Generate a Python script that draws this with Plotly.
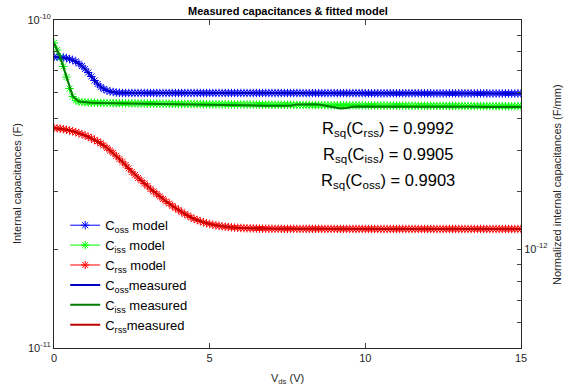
import plotly.graph_objects as go

# Drain-source voltage grids (V)
vds_model = [round(i * 0.1, 1) for i in range(151)]
vds_meas = [round(i * 0.2, 1) for i in range(76)]

# Model capacitances (pF) at 0.1 V steps
coss_model_pF = [
    77.14, 77.14, 77.01, 76.87, 76.58, 76.05, 75.50, 74.71, 73.67, 72.40,
    70.89, 69.17, 67.26, 65.40, 63.81, 62.48, 61.61, 60.97, 60.54, 60.33,
    60.12, 59.99, 59.90, 59.90, 59.90, 59.90, 59.90, 59.90, 59.90, 59.90,
    59.90, 59.90, 59.90, 59.90, 59.90, 59.90, 59.90, 59.90, 59.90, 59.90,
    59.90, 59.90, 59.90, 59.90, 59.90, 59.90, 59.90, 59.90, 59.90, 59.90,
    59.90, 59.90, 59.90, 59.90, 59.90, 59.90, 59.90, 59.90, 59.90, 59.90,
    59.90, 59.90, 59.90, 59.90, 59.90, 59.90, 59.90, 59.90, 59.90, 59.90,
    59.90, 59.90, 59.90, 59.90, 59.90, 59.90, 59.90, 59.90, 59.90, 59.90,
    59.85, 59.85, 59.85, 59.85, 59.85, 59.85, 59.85, 59.85, 59.85, 59.85,
    59.85, 59.85, 59.85, 59.85, 59.85, 59.85, 59.85, 59.85, 59.85, 59.85,
    59.80, 59.80, 59.80, 59.80, 59.80, 59.80, 59.80, 59.80, 59.80, 59.80,
    59.80, 59.80, 59.80, 59.80, 59.80, 59.80, 59.80, 59.80, 59.80, 59.80,
    59.75, 59.75, 59.75, 59.75, 59.75, 59.75, 59.75, 59.75, 59.75, 59.75,
    59.75, 59.75, 59.75, 59.75, 59.75, 59.75, 59.75, 59.75, 59.75, 59.75,
    59.70, 59.70, 59.70, 59.70, 59.70, 59.70, 59.70, 59.70, 59.70, 59.70,
    59.70,
]
ciss_model_pF = [
    85.11, 81.01, 76.87, 72.17, 67.02, 61.82, 58.44, 56.84, 56.35, 56.19,
    56.08, 56.02, 55.96, 55.93, 55.90, 55.87, 55.85, 55.83, 55.81, 55.79,
    55.77, 55.75, 55.74, 55.72, 55.70, 55.69, 55.68, 55.66, 55.64, 55.63,
    55.61, 55.60, 55.59, 55.58, 55.57, 55.55, 55.54, 55.53, 55.52, 55.50,
    55.49, 55.48, 55.47, 55.46, 55.45, 55.43, 55.42, 55.41, 55.40, 55.38,
    55.37, 55.36, 55.35, 55.34, 55.33, 55.32, 55.31, 55.30, 55.29, 55.28,
    55.27, 55.26, 55.25, 55.24, 55.23, 55.22, 55.21, 55.20, 55.19, 55.18,
    55.17, 55.16, 55.15, 55.14, 55.13, 55.12, 55.11, 55.09, 55.08, 55.07,
    55.06, 55.05, 55.04, 55.03, 55.02, 55.02, 55.01, 55.00, 54.99, 54.98,
    54.98, 54.97, 54.96, 54.96, 54.95, 54.94, 54.94, 54.93, 54.92, 54.92,
    54.91, 54.90, 54.89, 54.88, 54.88, 54.87, 54.86, 54.85, 54.85, 54.84,
    54.83, 54.82, 54.81, 54.80, 54.80, 54.79, 54.78, 54.77, 54.77, 54.76,
    54.75, 54.75, 54.74, 54.74, 54.73, 54.73, 54.72, 54.72, 54.71, 54.71,
    54.70, 54.70, 54.69, 54.69, 54.68, 54.68, 54.67, 54.67, 54.66, 54.66,
    54.65, 54.65, 54.64, 54.64, 54.63, 54.63, 54.62, 54.62, 54.61, 54.61,
    54.60,
]
crss_model_pF = [
    46.86, 46.76, 46.63, 46.47, 46.27, 46.04, 45.79, 45.50, 45.18, 44.83,
    44.46, 44.05, 43.59, 43.11, 42.63, 42.09, 41.45, 40.72, 40.02, 39.32,
    38.50, 37.70, 36.91, 36.14, 35.27, 34.41, 33.70, 32.99, 32.42, 31.73,
    31.18, 30.53, 30.00, 29.48, 28.96, 28.46, 27.97, 27.58, 27.10, 26.72,
    26.35, 25.98, 25.62, 25.35, 25.00, 24.74, 24.56, 24.34, 24.17, 24.02,
    23.88, 23.76, 23.66, 23.58, 23.50, 23.43, 23.38, 23.33, 23.28, 23.25,
    23.22, 23.20, 23.18, 23.17, 23.15, 23.14, 23.13, 23.12, 23.11, 23.10,
    23.10, 23.09, 23.09, 23.09, 23.08, 23.08, 23.08, 23.08, 23.08, 23.08,
    23.08, 23.08, 23.08, 23.08, 23.08, 23.08, 23.08, 23.08, 23.08, 23.08,
    23.07, 23.07, 23.07, 23.07, 23.07, 23.07, 23.07, 23.07, 23.07, 23.07,
    23.06, 23.06, 23.06, 23.06, 23.06, 23.06, 23.06, 23.06, 23.06, 23.06,
    23.06, 23.06, 23.06, 23.06, 23.06, 23.06, 23.06, 23.06, 23.06, 23.06,
    23.06, 23.06, 23.06, 23.06, 23.06, 23.06, 23.06, 23.06, 23.06, 23.06,
    23.06, 23.06, 23.06, 23.06, 23.06, 23.06, 23.06, 23.06, 23.06, 23.06,
    23.06, 23.06, 23.06, 23.06, 23.06, 23.06, 23.06, 23.06, 23.06, 23.06,
    23.06,
]

# Measured capacitances (pF), read at 0.2 V steps
coss_meas_pF = [
    77.14, 77.01, 76.58, 75.50, 73.67, 70.89, 67.26, 63.81, 61.61, 60.54,
    60.12, 59.90, 59.92, 59.88, 59.90, 59.93, 59.89, 59.90, 59.91, 59.88,
    59.90, 59.92, 59.89, 59.90, 59.88, 59.91, 59.90, 59.89, 59.92, 59.90,
    59.88, 59.90, 59.91, 59.89, 59.90, 59.87, 59.90, 59.88, 59.86, 59.89,
    59.85, 59.86, 59.84, 59.85, 59.83, 59.86, 59.84, 59.82, 59.83, 59.81,
    59.80, 59.82, 59.79, 59.80, 59.78, 59.80, 59.77, 59.79, 59.76, 59.77,
    59.75, 59.76, 59.74, 59.75, 59.73, 59.74, 59.72, 59.73, 59.71, 59.72,
    59.70, 59.71, 59.70, 59.69, 59.70, 59.70,
]
ciss_meas_pF = [
    85.00, 77.00, 67.20, 58.60, 56.40, 56.05, 55.95, 55.88, 55.83, 55.78,
    55.74, 55.70, 55.66, 55.62, 55.59, 55.56, 55.52, 55.50, 55.46, 55.43,
    55.40, 55.36, 55.33, 55.30, 55.27, 55.24, 55.20, 55.15, 55.05, 54.95,
    54.88, 54.85, 54.82, 54.80, 54.80, 54.78, 54.80, 54.82, 54.78, 55.30,
    55.38, 55.40, 55.36, 55.10, 54.60, 54.00, 53.70, 53.95, 54.35, 54.45,
    54.40, 54.42, 54.45, 54.47, 54.43, 54.40, 54.38, 54.40, 54.42, 54.40,
    54.38, 54.36, 54.38, 54.40, 54.37, 54.35, 54.36, 54.38, 54.35, 54.33,
    54.34, 54.36, 54.33, 54.32, 54.34, 54.33,
]
crss_meas_pF = [
    46.86, 46.63, 46.27, 45.79, 45.18, 44.46, 43.59, 42.63, 41.45, 40.02,
    38.50, 36.91, 35.27, 33.70, 32.42, 31.18, 30.00, 28.96, 27.97, 27.10,
    26.35, 25.62, 25.00, 24.56, 24.17, 23.88, 23.66, 23.50, 23.38, 23.28,
    23.22, 23.18, 23.15, 23.13, 23.11, 23.10, 23.09, 23.09, 23.08, 23.08,
    23.08, 23.08, 23.08, 23.08, 23.08, 23.07, 23.07, 23.07, 23.07, 23.07,
    23.06, 23.06, 23.06, 23.06, 23.06, 23.06, 23.06, 23.06, 23.06, 23.06,
    23.06, 23.06, 23.06, 23.06, 23.06, 23.06, 23.06, 23.06, 23.06, 23.06,
    23.06, 23.06, 23.06, 23.06, 23.06, 23.06,
]

legend_names = [
    "C<sub>oss</sub> model", "C<sub>iss</sub> model", "C<sub>rss</sub> model",
    "C<sub>oss</sub>measured", "C<sub>iss</sub> measured", "C<sub>rss</sub>measured",
]
rsq_labels = ["C<sub>rss</sub>", "C<sub>iss</sub>", "C<sub>oss</sub>"]
rsq_values = [0.9992, 0.9905, 0.9903]

left_tickvals = [k * 1e-11 for k in range(1, 11)]
left_ticktext = ["10<sup>-11</sup>"] + [""] * 8 + ["10<sup>-10</sup>"]
right_tickvals = [6e-13, 7e-13, 8e-13, 9e-13, 1e-12, 2e-12, 3e-12, 4e-12]
right_ticktext = ["", "", "", "", "10<sup>-12</sup>", "", "", ""]

def F(lst):
    return [v * 1e-12 for v in lst]

FONT = "Liberation Sans, Arial, sans-serif"
AX = "#262626"

fig = go.Figure()
model_colors = ["#0000FF", "#00FF00", "#FF0000"]
meas_colors = ["#0000C0", "#007A00", "#C00000"]
for name, vals, col in zip(legend_names[:3], [coss_model_pF, ciss_model_pF, crss_model_pF], model_colors):
    fig.add_trace(go.Scatter(
        x=vds_model, y=F(vals), name=name, mode="lines+markers",
        line=dict(color=col, width=1),
        marker=dict(symbol="asterisk-open", size=7, color=col, line=dict(color=col, width=1)),
    ))
for name, vals, col in zip(legend_names[3:], [coss_meas_pF, ciss_meas_pF, crss_meas_pF], meas_colors):
    fig.add_trace(go.Scatter(
        x=vds_meas, y=F(vals), name=name, mode="lines",
        line=dict(color=col, width=2),
    ))

# invisible trace for the right axis
fig.add_trace(go.Scatter(x=[None], y=[None], yaxis="y2", showlegend=False, hoverinfo="skip"))

annotations = [
    dict(text="<b>Measured capacitances &amp; fitted model</b>", xref="paper", yref="paper",
         x=0.5, y=1.0, xanchor="center", yanchor="bottom", yshift=1, showarrow=False,
         font=dict(size=11, color="#000", family=FONT)),
    dict(text="Internal capacitances (F)", xref="paper", yref="paper", x=-0.079, y=0.5,
         xanchor="center", yanchor="middle",
         textangle=-90, showarrow=False, font=dict(size=11, color=AX, family=FONT)),
    dict(text="Normalized internal capacitances (F/mm)", xref="paper", yref="paper", x=1.077, y=0.5,
         xanchor="center", yanchor="middle",
         textangle=-90, showarrow=False, font=dict(size=11, color=AX, family=FONT)),
    dict(text="V<sub>ds</sub> (V)", xref="paper", yref="paper", x=0.5, y=-0.094,
         xanchor="center", yanchor="middle",
         showarrow=False, font=dict(size=11, color=AX, family=FONT)),
]
for i, (lab, val) in enumerate(zip(rsq_labels, rsq_values)):
    annotations.append(dict(
        text=f"R<sub>sq</sub>({lab}) = {val:.4f}", xref="paper", yref="paper",
        x=0.716, y=0.668 - i * 0.08, xanchor="center", yanchor="middle", showarrow=False,
        font=dict(size=16.5, color="#000", family=FONT)))

fig.update_layout(
    width=568, height=391,
    margin=dict(l=54, r=47, t=20, b=43),
    paper_bgcolor="white", plot_bgcolor="white",
    font=dict(family=FONT, size=11, color=AX),
    showlegend=True,
    legend=dict(x=0.024, y=0.42, xanchor="left", yanchor="top",
                bgcolor="rgba(255,255,255,0)", font=dict(size=13, color="#000", family=FONT),
                tracegroupgap=0),
    xaxis=dict(range=[0, 15], tickvals=[0, 5, 10, 15], ticks="inside", ticklen=5,
               showline=True, linecolor=AX, linewidth=1, mirror="ticks", showgrid=False,
               zeroline=False, tickfont=dict(size=11, color=AX)),
    yaxis=dict(type="log", range=[-11, -10], tickvals=left_tickvals, ticktext=left_ticktext,
               ticks="inside", ticklen=4, showline=True, linecolor=AX, linewidth=1,
               mirror="ticks", showgrid=False, zeroline=False, tickfont=dict(size=11, color=AX)),
    yaxis2=dict(type="log", overlaying="y", side="right",
                range=[-12.30103, -11.30103], tickvals=right_tickvals, ticktext=right_ticktext,
                ticks="inside", ticklen=4, showline=True, linecolor=AX, linewidth=1,
                showgrid=False, zeroline=False, tickfont=dict(size=11, color=AX)),
    annotations=annotations,
)

fig.write_html("out.html")
